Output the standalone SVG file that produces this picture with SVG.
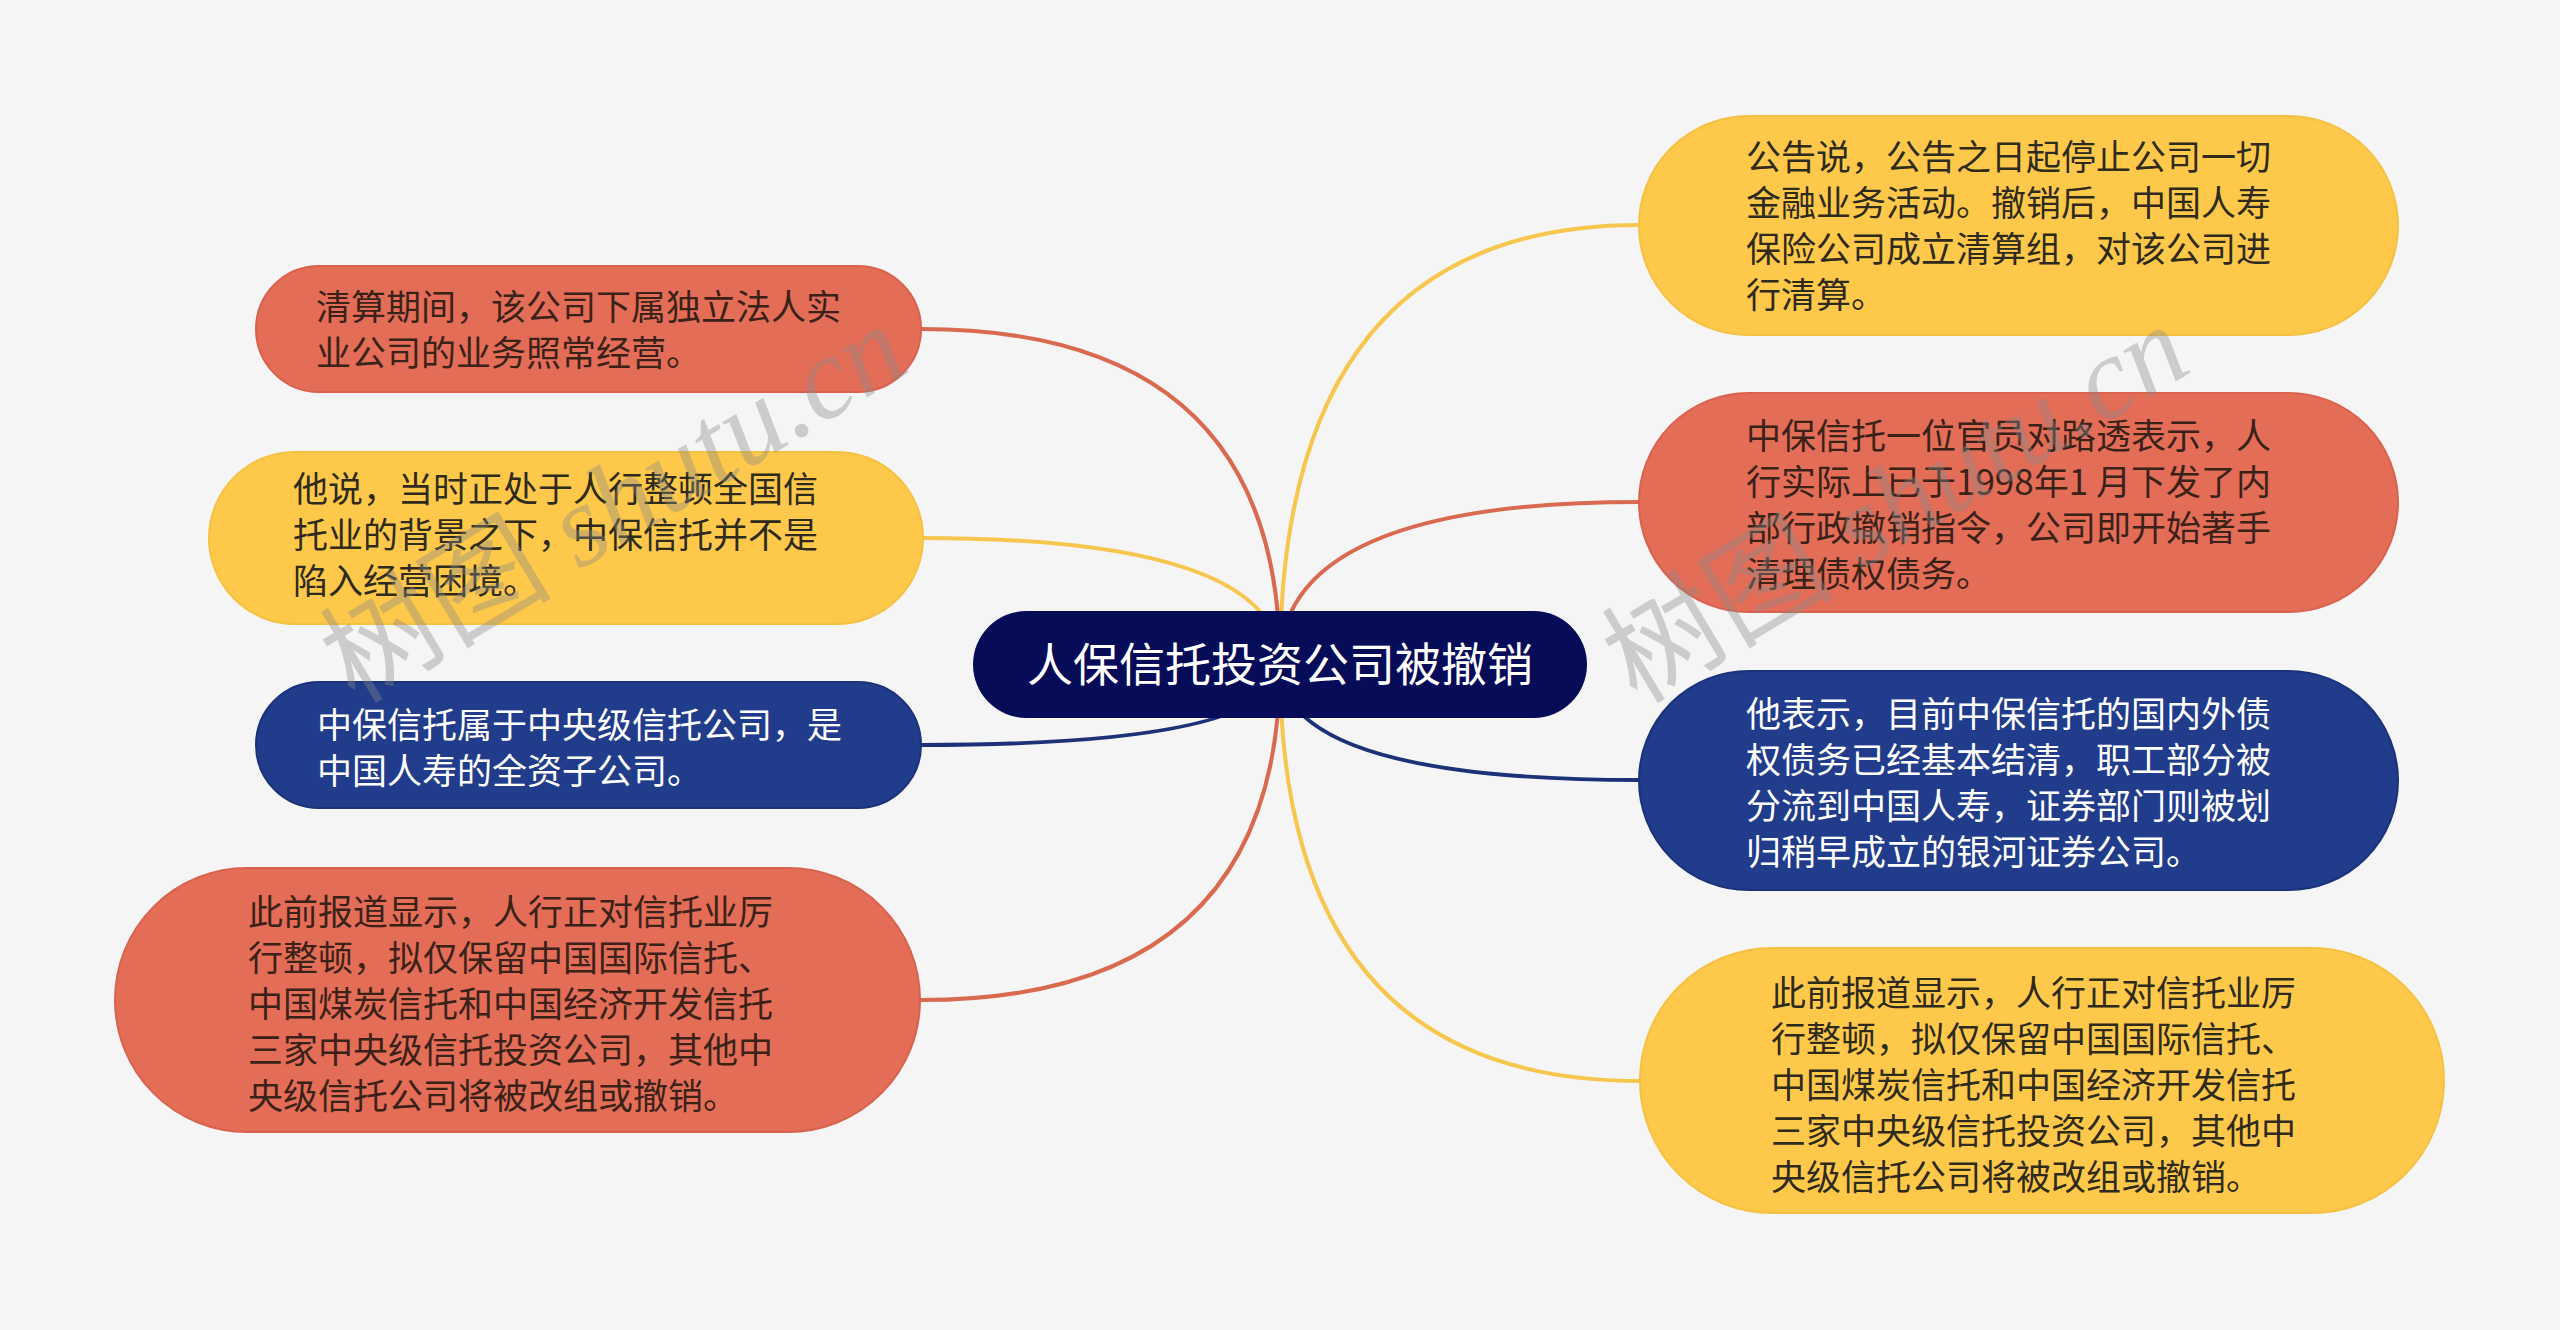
<svg xmlns="http://www.w3.org/2000/svg" width="2560" height="1330" viewBox="0 0 2560 1330">
<style>
.bg{fill:#f5f5f5}
.red{fill:#e46d58;stroke:#d9624e;stroke-width:2}
.yel{fill:#fec94a;stroke:#f5c143;stroke-width:2}
.blu{fill:#203c8b;stroke:#1a3278;stroke-width:2}
.ctr{fill:#060c57}
.t{font-family:"Noto Sans CJK SC","Noto Sans",sans-serif;font-size:35px}
.tr{fill:#3a2218}
.ty{fill:#2e2a1c}
.tb{fill:#ffffff}
.tc{font-family:"Noto Sans CJK SC","Noto Sans",sans-serif;font-size:46px;fill:#ffffff}
.c{fill:none;stroke-width:4;stroke-linecap:round}
.cr{stroke:#d9694f}
.cy{stroke:#f6c64f}
.cb{stroke:#1c3177}
.wm{font-family:"Liberation Serif","Noto Sans CJK SC",serif;font-size:116px;fill:#8a8a8a;fill-opacity:0.38}
</style>
<rect class="bg" x="0" y="0" width="2560" height="1330"/>
<g id="connectors">
<path class="c cr" d="M1280 664 Q1280 329 921 329"/>
<path class="c cy" d="M1280 664 Q1280 538 921 538"/>
<path class="c cb" d="M1280 664 Q1280 745 921 745"/>
<path class="c cr" d="M1280 664 Q1280 1000 921 1000"/>
<path class="c cy" d="M1280 664 Q1280 225 1640 225"/>
<path class="c cr" d="M1280 664 Q1280 502 1640 502"/>
<path class="c cb" d="M1280 664 Q1280 780 1640 780"/>
<path class="c cy" d="M1280 664 Q1280 1081 1640 1081"/>
</g>
<g id="center">
<rect class="ctr" x="973" y="611" width="614" height="107" rx="53.5"/>
<text class="tc" x="1280" y="681" text-anchor="middle">人保信托投资公司被撤销</text>
</g>
<g id="L1">
<rect class="red" x="256" y="266" width="665" height="126" rx="63"/>
<text class="t tr" x="316" y="320">清算期间，该公司下属独立法人实</text>
<text class="t tr" x="316" y="366">业公司的业务照常经营。</text>
</g>
<g id="L2">
<rect class="yel" x="209" y="452" width="714" height="172" rx="86"/>
<text class="t ty" x="293" y="502">他说，当时正处于人行整顿全国信</text>
<text class="t ty" x="293" y="548">托业的背景之下，中保信托并不是</text>
<text class="t ty" x="293" y="594">陷入经营困境。</text>
</g>
<g id="L3">
<rect class="blu" x="256" y="682" width="665" height="126" rx="63"/>
<text class="t tb" x="317" y="738">中保信托属于中央级信托公司，是</text>
<text class="t tb" x="317" y="784">中国人寿的全资子公司。</text>
</g>
<g id="L4">
<rect class="red" x="115" y="868" width="805" height="264" rx="132"/>
<text class="t tr" x="248" y="925">此前报道显示，人行正对信托业厉</text>
<text class="t tr" x="248" y="971">行整顿，拟仅保留中国国际信托、</text>
<text class="t tr" x="248" y="1017">中国煤炭信托和中国经济开发信托</text>
<text class="t tr" x="248" y="1063">三家中央级信托投资公司，其他中</text>
<text class="t tr" x="248" y="1109">央级信托公司将被改组或撤销。</text>
</g>
<g id="R1">
<rect class="yel" x="1639" y="116" width="759" height="219" rx="109.5"/>
<text class="t ty" x="1746" y="170">公告说，公告之日起停止公司一切</text>
<text class="t ty" x="1746" y="216">金融业务活动。撤销后，中国人寿</text>
<text class="t ty" x="1746" y="262">保险公司成立清算组，对该公司进</text>
<text class="t ty" x="1746" y="308">行清算。</text>
</g>
<g id="R2">
<rect class="red" x="1639" y="393" width="759" height="219" rx="109.5"/>
<text class="t tr" x="1746" y="449">中保信托一位官员对路透表示，人</text>
<text class="t tr" x="1746" y="495">行实际上已于1998年1 月下发了内</text>
<text class="t tr" x="1746" y="541">部行政撤销指令，公司即开始著手</text>
<text class="t tr" x="1746" y="587">清理债权债务。</text>
</g>
<g id="R3">
<rect class="blu" x="1639" y="671" width="759" height="219" rx="109.5"/>
<text class="t tb" x="1746" y="727">他表示，目前中保信托的国内外债</text>
<text class="t tb" x="1746" y="773">权债务已经基本结清，职工部分被</text>
<text class="t tb" x="1746" y="819">分流到中国人寿，证券部门则被划</text>
<text class="t tb" x="1746" y="865">归稍早成立的银河证券公司。</text>
</g>
<g id="R4">
<rect class="yel" x="1640" y="948" width="804" height="265" rx="132.5"/>
<text class="t ty" x="1771" y="1006">此前报道显示，人行正对信托业厉</text>
<text class="t ty" x="1771" y="1052">行整顿，拟仅保留中国国际信托、</text>
<text class="t ty" x="1771" y="1098">中国煤炭信托和中国经济开发信托</text>
<text class="t ty" x="1771" y="1144">三家中央级信托投资公司，其他中</text>
<text class="t ty" x="1771" y="1190">央级信托公司将被改组或撤销。</text>
</g>
<g id="watermarks">
<text class="wm" transform="translate(355 705) rotate(-31)">树图 <tspan font-style="italic">shutu.cn</tspan></text>
<text class="wm" transform="translate(1637 705) rotate(-31)">树图 <tspan font-style="italic">shutu.cn</tspan></text>
</g>
</svg>
